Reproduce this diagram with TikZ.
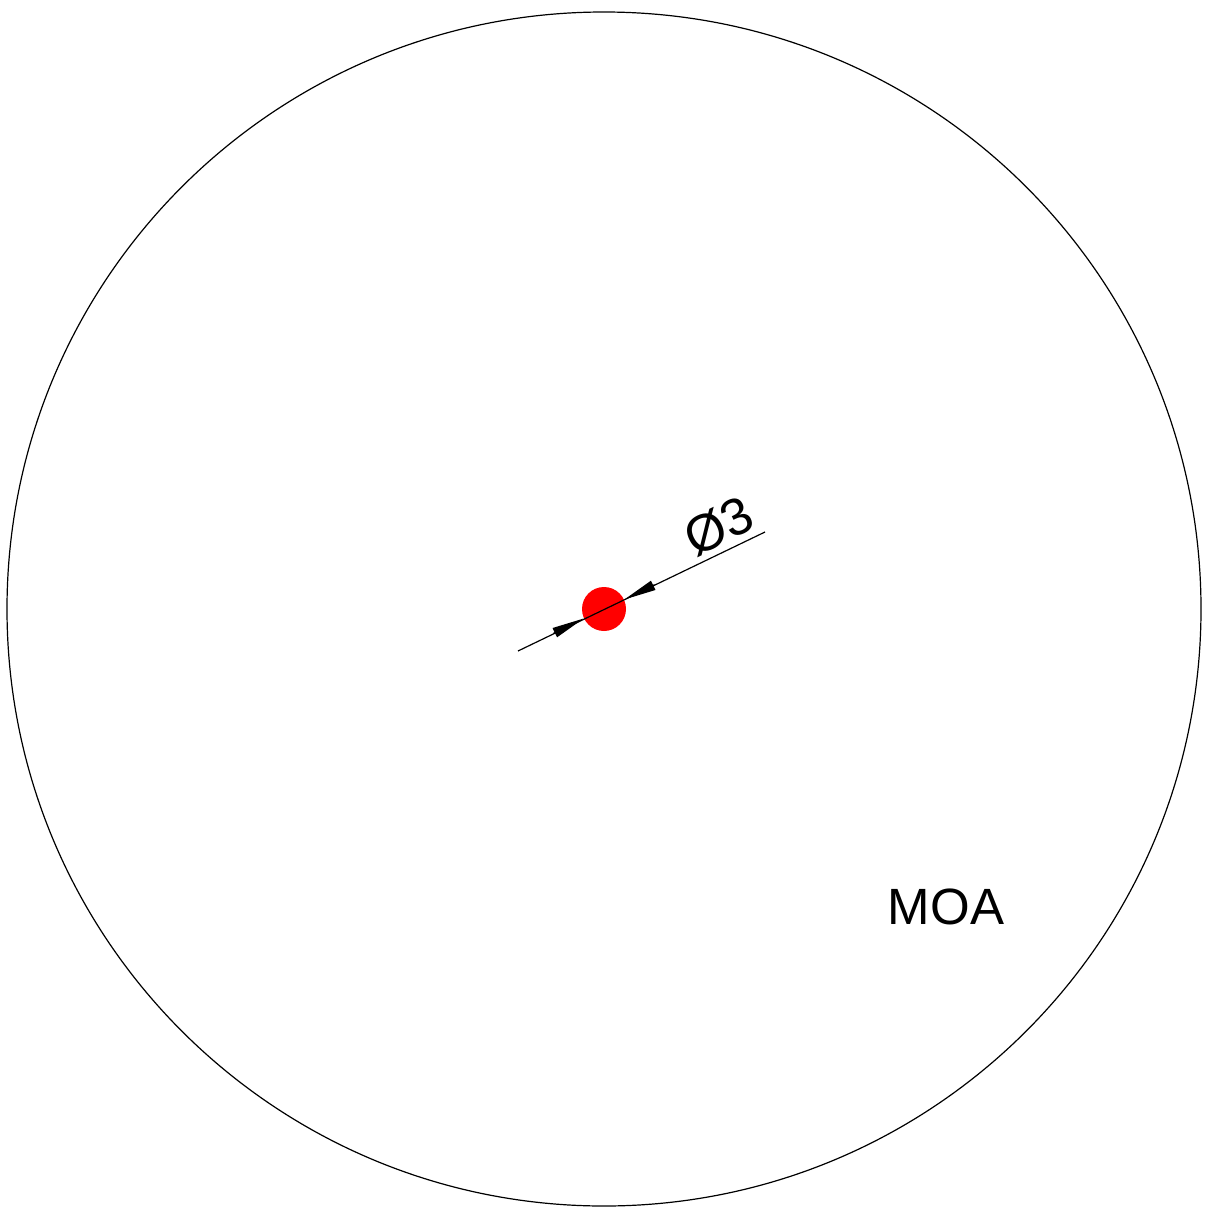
\documentclass[tikz,border=0pt]{standalone}
\usepackage{fontspec}
\setmainfont{Liberation Sans}
\usetikzlibrary{arrows.meta}
\tikzset{dimtip/.style = {-{Triangle[length=32pt,width=10pt]}},
         reddot/.style = {circle, fill=red, minimum size=44pt, inner sep=0pt}}

\begin{document}
\begin{tikzpicture}[x=1pt, y=-1pt, line width=1.2pt]
    \useasboundingbox (0,0) rectangle (1214,1218);
    \draw (604,609) circle (597pt);
    \node [reddot] (dot) at (604,609) {};
    % dimension line
    \coordinate (dimA) at (518,651);
    \coordinate (dimB) at (765,532);
    \coordinate (tailA) at (553.5,633.3);
    \coordinate (tailB) at (654.5,584.7);
    \draw (dimA) -- (dimB);
    \draw [dimtip] (tailA) -- (dot.205.7);
    \draw [dimtip] (tailB) -- (dot.25.7);
    \node [rotate=25.7, inner sep=0pt] (dia) at (719,526) {\fontsize{52}{52}\selectfont Ø3};
    \node (moa) at (946,907) {\fontsize{51}{51}\selectfont MOA};
\end{tikzpicture}
\end{document}
